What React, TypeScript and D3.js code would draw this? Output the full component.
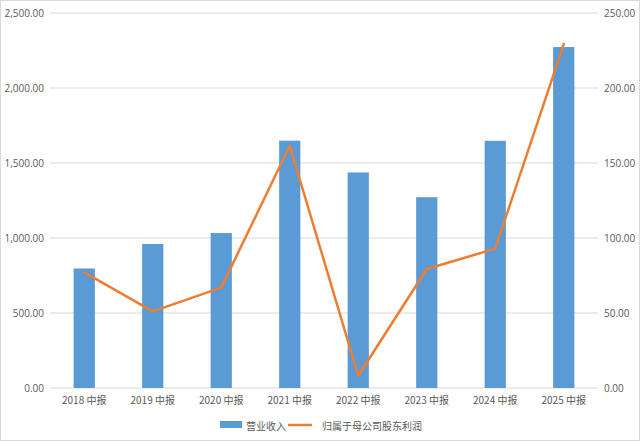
import * as d3 from "d3";

const categories = [
  "2018 中报",
  "2019 中报",
  "2020 中报",
  "2021 中报",
  "2022 中报",
  "2023 中报",
  "2024 中报",
  "2025 中报",
];
const revenue = [797, 960, 1033, 1649, 1437, 1272, 1648, 2273];
const netProfit = [77.1, 51.1, 66.9, 161.5, 8.2, 79.3, 92.9, 229.3];
const leftTicks = [0, 500, 1000, 1500, 2000, 2500];
const rightTicks = [0, 50, 100, 150, 200, 250];
const seriesNames = ["营业收入", "归属于母公司股东利润"];

const W = 640;
const H = 441;
const BLUE = "#5B9BD5";
const ORANGE = "#ED7D31";
const FONT = "'Open Sans', 'Noto Sans', sans-serif";
const CJK = "'Noto Sans CJK SC', sans-serif";

const margin = { top: 13, right: 42, bottom: 53, left: 50 };

export default function App() {
  const innerW = W - margin.left - margin.right;
  const innerH = H - margin.top - margin.bottom;

  const x = d3.scaleBand().domain(categories).range([0, innerW]).paddingInner(0).paddingOuter(0);
  const yL = d3.scaleLinear().domain([0, 2500]).range([innerH, 0]);
  const yR = d3.scaleLinear().domain([0, 250]).range([innerH, 0]);
  const barW = x.bandwidth() * 0.31;
  const cx = (c: string) => (x(c) ?? 0) + x.bandwidth() / 2;

  const line = d3
    .line<number>()
    .x((_, i) => cx(categories[i]))
    .y((d) => yR(d));

  const fmt = d3.format(",.2f");

  return (
    <svg
      width={W}
      height={H}
      style={{ position: "absolute", left: 0, top: 0, background: "#fff" }}
    >
      <rect x={0.5} y={0.5} width={W - 1} height={H - 1} fill="#fff" stroke="#d9d9d9" />
      <g transform={`translate(${margin.left},${margin.top})`}>
        {leftTicks.map((t) => (
          <line
            key={`g${t}`}
            x1={0}
            x2={innerW}
            y1={yL(t)}
            y2={yL(t)}
            stroke="#d9d9d9"
            strokeWidth={1}
          />
        ))}
        {leftTicks.map((t) => (
          <text
            key={`l${t}`}
            x={-6}
            y={yL(t)}
            textAnchor="end"
            dominantBaseline="central"
            fill="#595959"
            fontSize={10}
            fontFamily={FONT}
          >
            {fmt(t)}
          </text>
        ))}
        {rightTicks.map((t) => (
          <text
            key={`r${t}`}
            x={innerW + 6}
            y={yR(t)}
            textAnchor="start"
            dominantBaseline="central"
            fill="#595959"
            fontSize={10}
            fontFamily={FONT}
          >
            {fmt(t)}
          </text>
        ))}
        {revenue.map((v, i) => (
          <rect
            key={`b${i}`}
            x={cx(categories[i]) - barW / 2}
            y={yL(v)}
            width={barW}
            height={innerH - yL(v)}
            fill={BLUE}
          />
        ))}
        <path
          d={line(netProfit) ?? ""}
          fill="none"
          stroke={ORANGE}
          strokeWidth={2.5}
          strokeLinejoin="round"
          strokeLinecap="round"
        />
        {categories.map((c) => (
          <text
            key={`x${c}`}
            x={cx(c)}
            y={innerH + 16}
            textAnchor="middle"
            fill="#595959"
            fontSize={10}
            fontFamily={CJK}
          >
            {c}
          </text>
        ))}
      </g>
      <g transform="translate(220,425)">
        <rect x={0} y={-4} width={22} height={7} fill={BLUE} />
        <text x={26} y={0} dominantBaseline="central" fill="#595959" fontSize={10} fontFamily={CJK}>
          {seriesNames[0]}
        </text>
        <line x1={68} x2={92} y1={0} y2={0} stroke={ORANGE} strokeWidth={2.5} />
        <text x={102} y={0} dominantBaseline="central" fill="#595959" fontSize={10} fontFamily={CJK}>
          {seriesNames[1]}
        </text>
      </g>
    </svg>
  );
}
